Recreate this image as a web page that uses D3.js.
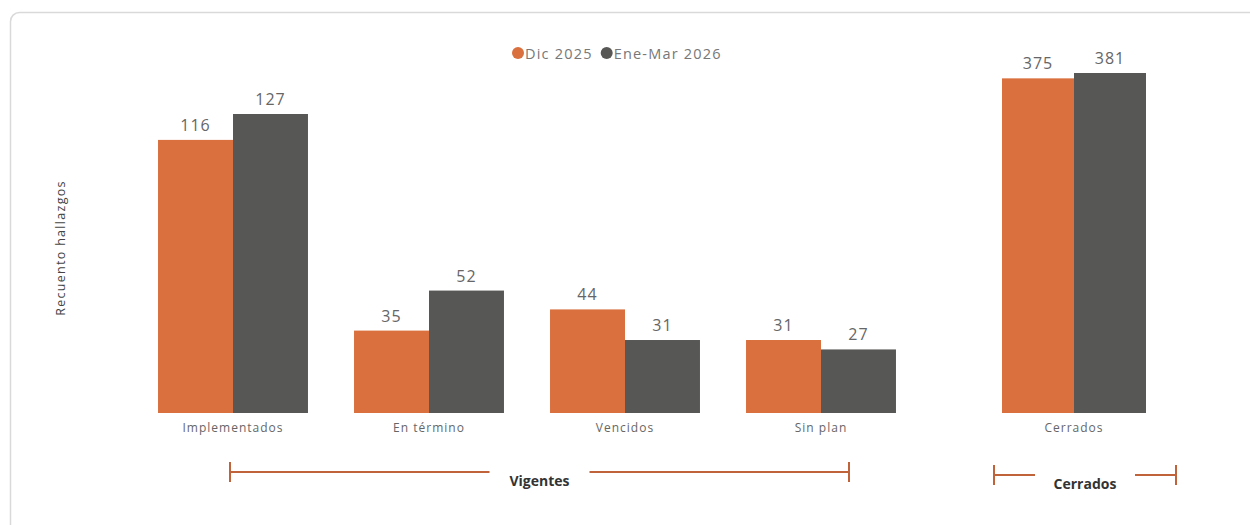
<!DOCTYPE html>
<html>
<head>
<meta charset="utf-8">
<script src="https://cdn.jsdelivr.net/npm/d3@7"></script>
<style>
  body { margin: 0; background: #fff; }
  text { font-family: "Open Sans", "DejaVu Sans", sans-serif; }
</style>
</head>
<body>
<script>
const wid = 1250, hei = 525;

// data
const series = ['Dic 2025', 'Ene-Mar 2026'];
const colors = ['#D9703D', '#575755'];
const vigCats = ['Implementados', 'En término', 'Vencidos', 'Sin plan'];
const vigDic = [116, 35, 44, 31];
const vigEne = [127, 52, 31, 27];
const cerCats = ['Cerrados'];
const cerDic = [375];
const cerEne = [381];
const groupLabels = ['Vigentes', 'Cerrados'];

const base = 413;

let svg = d3.select('body')
    .append('svg')
    .attr('width', wid)
    .attr('height', hei);

// card
svg.append('rect')
    .attr('x', 10.5).attr('y', 12.5)
    .attr('width', 1270).attr('height', 540)
    .attr('rx', 9)
    .attr('fill', '#fff')
    .attr('stroke', '#d9d9d9')
    .attr('stroke-width', 1.5);

// scales
let xVig = d3.scaleBand().domain(vigCats).range([135, 919]).paddingInner(0.235).paddingOuter(0.1175);
let xCer = d3.scaleBand().domain(cerCats).range([1002, 1146]).padding(0);
let yVig = d3.scaleLinear().domain([0, 127]).range([base, 114]);
let yCer = d3.scaleLinear().domain([0, 381]).range([base, 73]);

function drawPanel(cats, vals, x, y, name) {
    let sub = d3.scaleBand().domain(series).range([0, x.bandwidth()]);
    let rows = [];
    cats.forEach((c, i) => {
        series.forEach((s, j) => rows.push({cat: c, s: s, j: j, v: vals[j][i]}));
    });
    let g = svg.append('g').attr('class', name);
    g.selectAll('rect')
        .data(rows)
        .enter()
        .append('rect')
        .attr('x', d => x(d.cat) + sub(d.s))
        .attr('y', d => y(d.v))
        .attr('width', sub.bandwidth())
        .attr('height', d => base - y(d.v))
        .attr('fill', d => colors[d.j]);
    g.selectAll('text.val')
        .data(rows)
        .enter()
        .append('text')
        .attr('class', 'val')
        .attr('x', d => x(d.cat) + sub(d.s) + sub.bandwidth() / 2)
        .attr('y', d => y(d.v) - 9)
        .attr('text-anchor', 'middle')
        .attr('font-size', 16)
        .attr('letter-spacing', 1)
        .attr('fill', '#666')
        .text(d => d.v);
    g.selectAll('text.cat')
        .data(cats)
        .enter()
        .append('text')
        .attr('class', 'cat')
        .attr('x', d => x(d) + x.bandwidth() / 2)
        .attr('y', 432)
        .attr('text-anchor', 'middle')
        .attr('font-size', 12)
        .attr('letter-spacing', 1)
        .attr('fill', '#666')
        .text(d => d);
}

drawPanel(vigCats, [vigDic, vigEne], xVig, yVig, 'vig');
drawPanel(cerCats, [cerDic, cerEne], xCer, yCer, 'cer');

// y axis title
svg.append('text')
    .attr('transform', 'translate(65,248) rotate(-90)')
    .attr('text-anchor', 'middle')
    .attr('font-size', 12.5)
    .attr('letter-spacing', 1.3)
    .attr('fill', '#444')
    .text('Recuento hallazgos');

// legend
let leg = svg.append('g').attr('transform', 'translate(518,53)');
let lx = 0;
series.forEach((s, i) => {
    leg.append('circle').attr('cx', lx).attr('cy', 0).attr('r', 6).attr('fill', colors[i]);
    let t = leg.append('text')
        .attr('x', lx + 7).attr('y', 5.5)
        .attr('font-size', 14.5)
        .attr('letter-spacing', 1.2)
        .attr('fill', '#777')
        .text(s);
    lx += 7 + t.node().getComputedTextLength() + 14;
});

// brackets under the groups
const bracketCol = '#C0633A';
function bracket(x0, x1, yLine, label, gapHalf) {
    let cx = (x0 + x1) / 2;
    let g = svg.append('g');
    [[x0, cx - gapHalf], [cx + gapHalf, x1]].forEach(seg => {
        g.append('line').attr('x1', seg[0]).attr('x2', seg[1])
            .attr('y1', yLine).attr('y2', yLine)
            .attr('stroke', bracketCol).attr('stroke-width', 2);
    });
    [x0, x1].forEach(xx => {
        g.append('line').attr('x1', xx).attr('x2', xx)
            .attr('y1', yLine - 10).attr('y2', yLine + 10)
            .attr('stroke', bracketCol).attr('stroke-width', 2);
    });
    g.append('text')
        .attr('x', cx).attr('y', yLine + 14)
        .attr('text-anchor', 'middle')
        .attr('font-size', 14)
        .attr('font-weight', 'bold')
        .attr('fill', '#333')
        .text(label);
}
bracket(xVig(vigCats[0]) + xVig.bandwidth() / 2 - 3, xVig(vigCats[3]) + xVig.bandwidth() / 2 + 28, 472, groupLabels[0], 50);
bracket(994, 1176, 475, groupLabels[1], 50);
</script>
</body>
</html>
